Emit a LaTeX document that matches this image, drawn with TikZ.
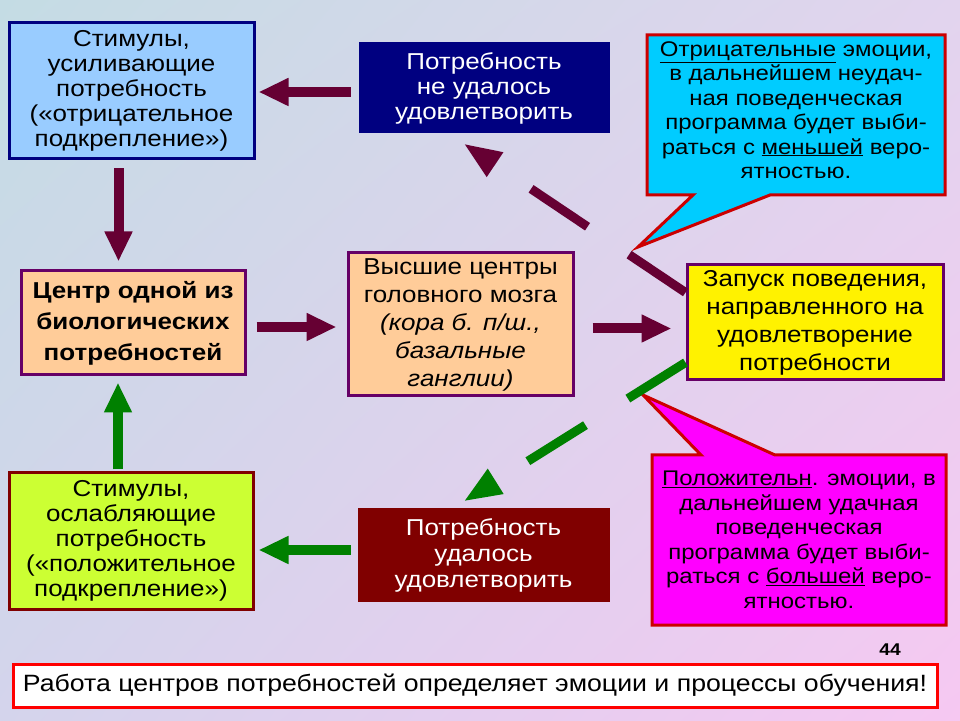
\documentclass[tikz,border=0pt]{standalone}
\usepackage{fontspec}
\setmainfont{Liberation Sans}[FakeStretch=1.13]
\usetikzlibrary{arrows.meta,calc,shadings}
\definecolor{bgTL}{RGB}{196,220,228}
\definecolor{bgTR}{RGB}{226,212,238}
\definecolor{bgBL}{RGB}{212,212,236}
\definecolor{bgBR}{RGB}{246,200,242}
\definecolor{arrM}{RGB}{102,0,51}
\definecolor{arrG}{RGB}{0,128,0}
\definecolor{fBlue}{RGB}{153,204,255}
\definecolor{fNavy}{RGB}{0,0,128}
\definecolor{fOrange}{RGB}{255,204,153}
\definecolor{bPurple}{RGB}{102,0,102}
\definecolor{fLime}{RGB}{204,255,51}
\definecolor{fDRed}{RGB}{128,0,0}
\definecolor{fCyan}{RGB}{0,204,255}
\definecolor{bRed}{RGB}{204,0,0}
\definecolor{fMag}{RGB}{255,0,255}
\tikzset{
  box/.style={draw, line width=3pt, inner sep=0pt, align=center,
    font=\fontsize{23}{25}\selectfont},
  marr/.style={draw=arrM, line width=10pt, -{Triangle[length=30pt,width=26pt]}},
  garr/.style={draw=arrG, line width=10pt, -{Triangle[length=30pt,width=26pt]}},
  mdash/.style={draw=arrM, line width=9pt, dash pattern=on 68pt off 50pt,
    -{Triangle[length=38pt,width=27pt]}},
  gdash/.style={draw=arrG, line width=9pt, dash pattern=on 68pt off 50pt,
    -{Triangle[length=38pt,width=27pt]}},
  callout/.style={line width=3pt, draw=bRed, line join=miter},
  ctext/.style={align=center, inner sep=0pt, font=\fontsize{21.2}{24.5}\selectfont}
}
\begin{document}
\begin{tikzpicture}[x=1pt,y=1pt]
\useasboundingbox (0,0) rectangle (960,720);
\shade[upper left=bgTL, upper right=bgTR, lower left=bgBL, lower right=bgBR] (0,0) rectangle (960,720);

% boxes
\node[box, fill=fBlue, draw=fNavy, minimum width=245pt, minimum height=136pt] (blue) at (131.5,629)
  {Стимулы,\\усиливающие\\потребность\\(«отрицательное\\подкрепление»)};
\node[box, fill=fNavy, draw=fNavy, text=white, minimum width=248pt, minimum height=88pt] (navy) at (484,632)
  {Потребность\\не удалось\\удовлетворить};
\node[box, fill=fOrange, draw=bPurple, minimum width=224pt, minimum height=104pt,
  font=\fontsize{23}{31}\selectfont\bfseries] (orange) at (133,397)
  {Центр одной из\\биологических\\потребностей};
\node[box, fill=fOrange, draw=bPurple, minimum width=225pt, minimum height=143pt,
  font=\fontsize{23}{28}\selectfont] (center) at (460.5,395.5)
  {Высшие центры\\головного мозга\\\textit{(кора б. п/ш.,}\\\textit{базальные}\\\textit{ганглии)}};
\node[box, fill=yellow, draw=bPurple, minimum width=256pt, minimum height=115pt,
  font=\fontsize{23}{28}\selectfont] (yellow) at (815,397.5)
  {Запуск поведения,\\направленного на\\удовлетворение\\потребности};
\node[box, fill=fLime, draw=fDRed, minimum width=244pt, minimum height=136pt] (lime) at (131,179)
  {Стимулы,\\ослабляющие\\потребность\\(«положительное\\подкрепление»)};
\node[box, fill=fDRed, draw=fDRed, text=white, minimum width=249pt, minimum height=90pt,
  font=\fontsize{23}{26}\selectfont] (dred) at (483.5,165)
  {Потребность\\удалось\\удовлетворить};

% callouts
\draw[callout, fill=fCyan] (647,685) -- (945,685) -- (945,525) -- (770,525) -- (638,473)
  -- (693,525) -- (647,525) -- cycle;
\node[ctext] (negtext) at (796,610)
  {\underline{Отрицательные} эмоции,\\в дальнейшем неудач-\\ная поведенческая\\программа будет выби-\\раться с \underline{меньшей} веро-\\ятностью.};
\draw[callout, fill=fMag] (652,265) -- (701,265) -- (643,325) -- (775,265) -- (946,265)
  -- (946,95) -- (652,95) -- cycle;
\node[ctext] (postext) at (799,180)
  {\underline{Положительн}. эмоции, в\\дальнейшем удачная\\поведенческая\\программа будет выби-\\раться с \underline{большей} веро-\\ятностью.};

% bottom
\node[draw=red, line width=3pt, fill=white, minimum width=924pt, minimum height=43pt, inner sep=0pt,
  font=\fontsize{23.6}{28}\selectfont] (bottom) at (475,34.5)
  {Работа центров потребностей определяет эмоции и процессы обучения!};
\node[font=\fontsize{17}{20}\selectfont\bfseries, inner sep=0pt] (pagenum) at (890,70) {44};

% arrows
\draw[marr, shorten <=8pt, shorten >=3pt] ([yshift=-4pt]navy.west) -- ([yshift=-4pt]navy.west -| blue.east);
\draw[marr, shorten <=8pt, shorten >=8pt] ([xshift=-13pt]blue.south) -- ([xshift=-13pt]blue.south |- orange.north);
\draw[marr, shorten <=10pt, shorten >=10pt] ([yshift=-4pt]orange.east) -- ([yshift=-4pt]orange.east -| center.west);
\draw[marr, shorten <=18pt, shorten >=14pt] ([yshift=-4pt]center.east) -- ([yshift=-4pt]center.east -| yellow.west);
\draw[garr, shorten <=2pt, shorten >=6pt] ([xshift=-13pt]lime.north) -- ([xshift=-13pt]lime.north |- orange.south);
\draw[garr, shorten <=7pt, shorten >=4pt] ([yshift=5pt]dred.west) -- ([yshift=5pt]dred.west -| lime.east);
\draw[mdash] ([yshift=-29pt]yellow.north west) -- ($(navy.south west)+(105,-10)$);
\draw[gdash] ([yshift=19pt]yellow.south west) -- ($(dred.north west)+(106,7)$);
\end{tikzpicture}
\end{document}
